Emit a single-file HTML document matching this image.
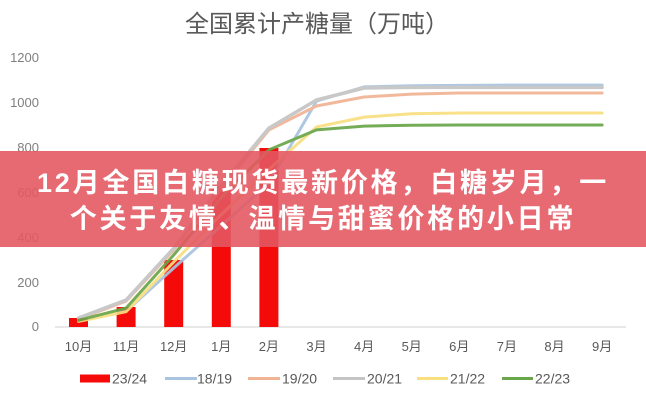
<!DOCTYPE html>
<html>
<head>
<meta charset="utf-8">
<style>
  html,body{margin:0;padding:0;background:#fff;}
  #wrap{position:relative;width:646px;height:400px;overflow:hidden;background:#fff;}
  svg{position:absolute;left:0;top:0;}
  .banner{position:absolute;left:0;top:151px;width:646px;height:96px;background:rgba(228,88,98,0.89);}
  .btxt{position:absolute;left:0;width:646px;text-align:center;color:#fff;font-family:"Liberation Sans","Noto Sans CJK SC",sans-serif;font-weight:700;font-size:27px;letter-spacing:2.8px;line-height:30px;white-space:nowrap;}
</style>
</head>
<body>
<div id="wrap">
<svg width="646" height="400" viewBox="0 0 646 400" xmlns="http://www.w3.org/2000/svg">
  <text x="317" y="32" text-anchor="middle" font-family="Liberation Sans, Noto Sans CJK SC, sans-serif" font-size="24" fill="#595959">全国累计产糖量（万吨）</text>

  <g font-family="Liberation Sans, sans-serif" font-size="13" fill="#7f7f7f" text-anchor="end">
    <text x="39" y="62">1200</text>
    <text x="39" y="107">1000</text>
    <text x="39" y="152">800</text>
    <text x="39" y="197">600</text>
    <text x="39" y="242">400</text>
    <text x="39" y="287">200</text>
    <text x="39" y="331">0</text>
  </g>

  <line x1="55" y1="327" x2="626" y2="327" stroke="#d9d9d9" stroke-width="1.2"/>

  <g fill="#f50a0a">
    <rect x="69" y="318" width="19" height="9"/>
    <rect x="116.6" y="307" width="19" height="20"/>
    <rect x="164.2" y="260" width="19" height="67"/>
    <rect x="211.8" y="187" width="19" height="140"/>
    <rect x="259.4" y="148" width="19" height="179"/>
  </g>

  <g fill="none" stroke-width="3" stroke-linejoin="round" stroke-linecap="round" opacity="0.92">
    <polyline stroke="#a9c4df" points="78.5,320.7 126.1,311.3 173.7,268 221.3,225.8 268.9,183 316.5,101.1 364.1,86.9 411.7,85.8 459.3,85.4 506.9,85.1 554.5,85.1 602.1,85.1"/>
    <polyline stroke="#f0b394" points="78.5,319.1 126.1,301.1 173.7,250 221.3,188.6 268.9,129.9 316.5,106 364.1,97 411.7,94.1 459.3,93 506.9,93 554.5,93 602.1,93"/>
    <polyline stroke="#c4c4c4" stroke-width="3.5" points="78.5,318 126.1,300 173.7,248.3 221.3,185.3 268.9,128.1 316.5,100 364.1,88 411.7,87.4 459.3,87.4 506.9,87.4 554.5,87.4 602.1,87.4"/>
    <polyline stroke="#f8df80" points="78.5,321.4 126.1,311.7 173.7,262 221.3,214.5 268.9,169.5 316.5,127 364.1,117.1 411.7,113.7 459.3,113 506.9,113 554.5,113 602.1,113"/>
    <polyline stroke="#6aa64a" points="78.5,320.3 126.1,308.1 173.7,255 221.3,197.6 268.9,149.9 316.5,129.9 364.1,126.1 411.7,125.2 459.3,125 506.9,125 554.5,125 602.1,125"/>
  </g>

  <g font-family="Liberation Sans, Noto Sans CJK SC, sans-serif" font-size="13" fill="#595959" text-anchor="middle">
    <text x="78.5" y="351">10月</text>
    <text x="126.1" y="351">11月</text>
    <text x="173.7" y="351">12月</text>
    <text x="221.3" y="351">1月</text>
    <text x="268.9" y="351">2月</text>
    <text x="316.5" y="351">3月</text>
    <text x="364.1" y="351">4月</text>
    <text x="411.7" y="351">5月</text>
    <text x="459.3" y="351">6月</text>
    <text x="506.9" y="351">7月</text>
    <text x="554.5" y="351">8月</text>
    <text x="602.1" y="351">9月</text>
  </g>

  <g>
    <rect x="80" y="374.5" width="30" height="8" fill="#f50a0a"/>
    <line x1="165" y1="378.5" x2="197" y2="378.5" stroke="#a9c4df" stroke-width="3"/>
    <line x1="248" y1="378.5" x2="280" y2="378.5" stroke="#f0b394" stroke-width="3"/>
    <line x1="333" y1="378.5" x2="365" y2="378.5" stroke="#c4c4c4" stroke-width="3"/>
    <line x1="417" y1="378.5" x2="448" y2="378.5" stroke="#f8df80" stroke-width="3"/>
    <line x1="502" y1="378.5" x2="533" y2="378.5" stroke="#6aa64a" stroke-width="3"/>
  </g>
  <g font-family="Liberation Sans, sans-serif" font-size="14" fill="#595959">
    <text x="112" y="383.5">23/24</text>
    <text x="197" y="383.5">18/19</text>
    <text x="282" y="383.5">19/20</text>
    <text x="367" y="383.5">20/21</text>
    <text x="450" y="383.5">21/22</text>
    <text x="535" y="383.5">22/23</text>
  </g>
</svg>
<div class="banner"></div>
<div class="btxt" style="top:168px;">12月全国白糖现货最新价格，白糖岁月，一</div>
<div class="btxt" style="top:204px;">个关于友情、温情与甜蜜价格的小日常</div>
</div>
</body>
</html>
